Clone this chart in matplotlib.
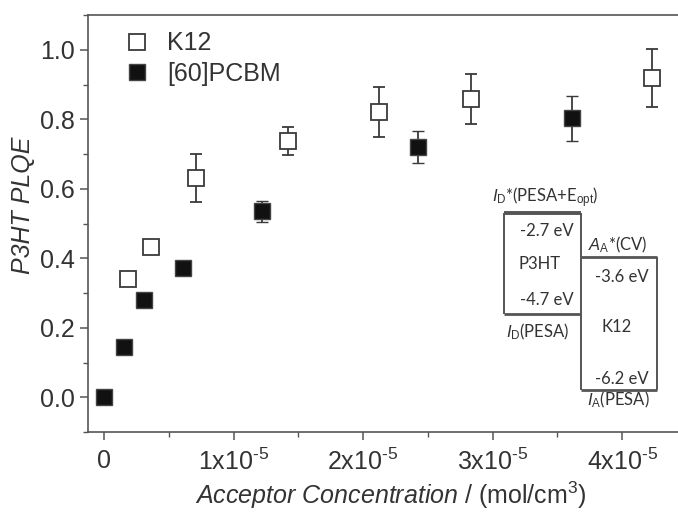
import matplotlib
matplotlib.use("Agg")
import matplotlib.pyplot as plt
from matplotlib.ticker import MultipleLocator, FixedLocator
from matplotlib.lines import Line2D

plt.rcParams['font.family'] = ['Liberation Sans', 'DejaVu Sans']
plt.rcParams['mathtext.fontset'] = 'custom'
plt.rcParams['mathtext.rm'] = 'Liberation Sans'
plt.rcParams['mathtext.it'] = 'Liberation Sans:italic'
plt.rcParams['mathtext.bf'] = 'Liberation Sans:bold'

# ---- data ----
k12_x = [0.185e-5, 0.363e-5, 0.71e-5, 1.42e-5, 2.12e-5, 2.83e-5, 4.23e-5]
k12_y = [0.34, 0.432, 0.631, 0.737, 0.82, 0.858, 0.918]
k12_err = [0.015, 0.02, 0.069, 0.04, 0.072, 0.072, 0.083]

pcbm_x = [0.0, 0.154e-5, 0.31e-5, 0.61e-5, 1.22e-5, 2.42e-5, 3.61e-5]
pcbm_y = [0.0, 0.144, 0.28, 0.372, 0.535, 0.72, 0.803]
pcbm_err = [0.0, 0.0, 0.0, 0.012, 0.03, 0.046, 0.065]

xtick_vals = [0, 1e-5, 2e-5, 3e-5, 4e-5]
xtick_labels = ['0', '1x10$^{\\text{-5}}$', '2x10$^{\\text{-5}}$', '3x10$^{\\text{-5}}$', '4x10$^{\\text{-5}}$']
ytick_vals = [0.0, 0.2, 0.4, 0.6, 0.8, 1.0]
ytick_labels = ['0.0', '0.2', '0.4', '0.6', '0.8', '1.0']

series_labels = ['K12', '[60]PCBM']

W, H = 678, 516
fig = plt.figure(figsize=(W / 100, H / 100), dpi=100)
ax = fig.add_axes([88 / W, 1 - 432 / H, 1 - 88 / W, (432 - 15) / H])

axc = '#555555'
ec = '#3a3a3a'

k12_style = dict(marker='s', ms=12, mfc='white', mec=ec, mew=1.3)
pcbm_style = dict(marker='s', ms=12, mfc='#111111', mec='#444444', mew=1.0)

ax.errorbar(k12_x, k12_y, yerr=k12_err, ls='none', ecolor=ec, elinewidth=1.3,
            capsize=4, capthick=1.3, zorder=3, **k12_style)
ax.errorbar(pcbm_x, pcbm_y, yerr=pcbm_err, ls='none', ecolor=ec, elinewidth=1.3,
            capsize=4, capthick=1.3, zorder=3, **pcbm_style)

ax.set_xlim(-1.23e-6, 4.43e-5)
ax.set_ylim(-0.1, 1.1)

ax.xaxis.set_major_locator(FixedLocator(xtick_vals))
ax.set_xticklabels(xtick_labels)
ax.xaxis.set_minor_locator(MultipleLocator(0.5e-5))
ax.yaxis.set_major_locator(FixedLocator(ytick_vals))
ax.set_yticklabels(ytick_labels)
ax.yaxis.set_minor_locator(MultipleLocator(0.1))

ax.spines['right'].set_visible(False)
for s in ['left', 'bottom', 'top']:
    ax.spines[s].set_color(axc)
    ax.spines[s].set_linewidth(1.2)

ax.tick_params(which='major', direction='out', length=6, width=1.1, color=axc,
               labelsize=18, labelcolor='#333333', top=False, right=False)
ax.tick_params(which='minor', direction='out', length=3.5, width=1.0, color=axc, top=False, right=False)
ax.tick_params(axis='x', pad=6)

fig.text(23 / W, 1 - 205 / H, 'P3HT PLQE', fontsize=18, style='italic', color='#333333',
         rotation=90, ha='center', va='center')

fig.text(391 / W, 1 - 495 / H, r'$\mathit{Acceptor\ Concentration\ /}$ (mol/cm$^{3}$)',
         fontsize=18, color='#333333', ha='center', va='center')

handles = [Line2D([], [], ls='none', **k12_style), Line2D([], [], ls='none', **pcbm_style)]
leg = ax.legend(handles, series_labels, loc='upper left', bbox_to_anchor=(0.045, 0.985),
                frameon=False, fontsize=18, handlelength=1.0, handletextpad=0.7,
                labelspacing=0.25, borderaxespad=0)
for t_ in leg.get_texts():
    t_.set_color('#333333')

# ---- energy level diagram (annotation) ----
def fx(px):
    return px / W

def fy(py):
    return 1 - py / H

lc = '#555555'
def line(x0, y0, x1, y1, lw=1.4):
    fig.add_artist(Line2D([fx(x0), fx(x1)], [fy(y0), fy(y1)], color=lc, lw=lw,
                          transform=fig.transFigure, solid_capstyle='butt'))

# P3HT box
line(504, 213, 581, 213, lw=2.8)
line(504, 213, 504, 314)
line(581, 213, 581, 257)
line(504, 314, 581, 314, lw=2.0)
# K12 box
line(581, 257, 657, 257, lw=2.0)
line(581, 257, 581, 390)
line(657, 257, 657, 390)
line(581, 390, 657, 390, lw=2.0)

dfont = dict(family=['Lato', 'DejaVu Sans'], fontsize=12, color='#333333')
def t(px, py, s, ha='center'):
    fig.text(fx(px), fy(py), s, ha=ha, va='center', **dfont)

t(545, 198, r'$\mathit{I}_{\rm D}$*(PESA+E$_{\rm opt}$)')
t(574, 231, '-2.7 eV', ha='right')
t(540, 264, 'P3HT')
t(574, 300, '-4.7 eV', ha='right')
t(538, 332, r'$\mathit{I}_{\rm D}$(PESA)')
t(618, 245, r'$\mathit{A}_{\rm A}$*(CV)')
t(649, 277, '-3.6 eV', ha='right')
t(617, 327, 'K12')
t(649, 379, '-6.2 eV', ha='right')
t(618, 400, r'$\mathit{I}_{\rm A}$(PESA)')

fig.savefig('out.png', dpi=100)
